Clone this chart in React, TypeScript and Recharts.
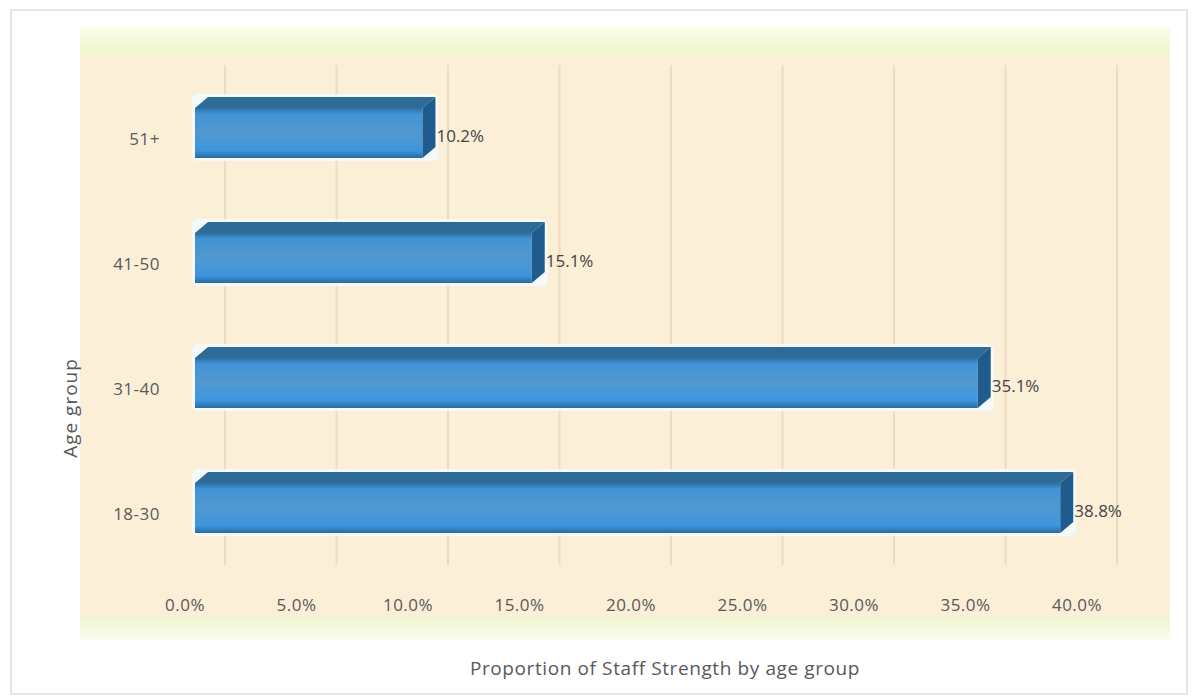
import React from 'react';
import { BarChart, Bar, XAxis, YAxis, CartesianGrid, LabelList } from 'recharts';

// Age groups, top to bottom as drawn
const ageGroups = ['51+', '41-50', '31-40', '18-30'];
const staffShare = [10.2, 15.1, 35.1, 38.8];
const xTicks = [0, 5, 10, 15, 20, 25, 30, 35, 40];

const chartData = ageGroups.map((name, i) => ({ name, value: staffShare[i] }));

const FONT = '"Open Sans", "Liberation Sans", sans-serif';
const TEXT = '#595959';
const DX = 13; // 3d depth, horizontal
const DY = 11; // 3d depth, vertical

// 3d looking bar: front face + top face + right side
const Bar3D = (props: any) => {
  const { x, y, width, height } = props;
  if (width == null || width <= 0) return null;
  const fy = y + DY;
  const fh = height - DY;
  const right = x + width;
  return (
    <g>
      <rect x={x - 3} y={y - 3} width={width + DX + 6} height={height + 6} rx={6} fill="#f2fbff" opacity={0.85} />
      <rect x={x} y={fy} width={width} height={fh} fill="url(#frontGrad)" />
      <polygon
        points={`${x},${fy} ${x + DX},${y} ${right + DX},${y} ${right},${fy}`}
        fill="#2f6b97"
      />
      <polygon
        points={`${right},${fy} ${right + DX},${y} ${right + DX},${y + fh} ${right},${y + height}`}
        fill="#1f5b8c"
      />
    </g>
  );
};

const ValueLabel = (props: any) => {
  const { x, y, width, height, value } = props;
  return (
    <text
      x={x + width + DX + 1}
      y={y + DY + (height - DY) / 2 + 9}
      fill="#444"
      fontSize={17}
      fontFamily={FONT}
      textAnchor="start"
    >
      {`${Number(value).toFixed(1)}%`}
    </text>
  );
};

export default function App() {
  return (
    <div style={{ position: 'absolute', left: 0, top: 0, width: 1194, height: 700, background: '#fff' }}>
      {/* outer frame */}
      <div
        style={{
          position: 'absolute', left: 10, top: 9, width: 1178, height: 686,
          border: '2px solid #e6e6e6', boxSizing: 'border-box'
        }}
      />
      {/* plot wall */}
      <div
        style={{
          position: 'absolute', left: 80, top: 27, width: 1090, height: 613,
          background:
            'linear-gradient(to bottom, #fbfde9 0px, #eef6cf 26px, #fcefd8 30px, #fcefd8 588px, #eef6d4 592px, #fbfdee 613px)'
        }}
      />
      <div style={{ position: 'absolute', left: 0, top: 0 }}>
        <BarChart
          width={1194}
          height={700}
          data={chartData}
          layout="vertical"
          margin={{ top: 65, right: 107, bottom: 75, left: 115 }}
          barSize={61}
        >
          <defs>
            <linearGradient id="frontGrad" x1="0" y1="0" x2="0" y2="1">
              <stop offset="0%" stopColor="#2b6ea6" />
              <stop offset="12%" stopColor="#4393d4" />
              <stop offset="50%" stopColor="#5298cf" />
              <stop offset="85%" stopColor="#3c96de" />
              <stop offset="100%" stopColor="#2a6a9e" />
            </linearGradient>
          </defs>
          <CartesianGrid
            horizontal={false}
            stroke="#eddcbd"
            strokeWidth={2}
            verticalCoordinatesGenerator={({ offset }: any) =>
              xTicks.map((t) => offset.left + (t / 40) * offset.width + 30)
            }
          />
          <XAxis
            type="number"
            domain={[0, 40]}
            ticks={xTicks}
            tickFormatter={(v: number) => `${v.toFixed(1)}%`}
            axisLine={false}
            tickLine={false}
            tickSize={0}
            tickMargin={34}
            height={60}
            tick={{ fill: TEXT, fontSize: 17, fontFamily: FONT, letterSpacing: 0.5, dx: -10 }}
          />
          <YAxis
            type="category"
            dataKey="name"
            width={80}
            axisLine={false}
            tickLine={false}
            tickSize={0}
            tickMargin={35}
            tick={{ fill: TEXT, fontSize: 17, fontFamily: FONT, letterSpacing: 0.5, dy: 11 }}
          />
          <Bar dataKey="value" shape={<Bar3D />} isAnimationActive={false}>
            <LabelList dataKey="value" content={<ValueLabel />} />
          </Bar>
        </BarChart>
      </div>
      {/* axis titles */}
      <div
        style={{
          position: 'absolute', left: 70, top: 408, transform: 'translate(-50%, -50%) rotate(-90deg)',
          fontFamily: FONT, fontSize: 19, color: TEXT, whiteSpace: 'nowrap', letterSpacing: 1
        }}
      >
        Age group
      </div>
      <div
        style={{
          position: 'absolute', left: 665, top: 668, transform: 'translate(-50%, -50%)',
          fontFamily: FONT, fontSize: 19, color: TEXT, whiteSpace: 'nowrap', letterSpacing: 0.6
        }}
      >
        Proportion of Staff Strength by age group
      </div>
    </div>
  );
}
